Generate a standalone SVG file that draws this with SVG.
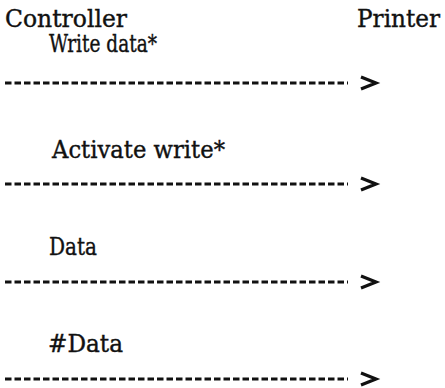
<svg xmlns="http://www.w3.org/2000/svg" width="445" height="388" viewBox="0 0 445 388">
<style>
  text { font-family: 'DejaVu Serif', 'Liberation Serif', serif; font-size: 24px; fill: #111; stroke: #111; stroke-width: 0.4; }
  .dash { stroke: #111; stroke-width: 3.2; stroke-dasharray: 6.5 3; fill: none; }
  .head { stroke: #111; stroke-width: 3.2; fill: none; stroke-linecap: butt; stroke-linejoin: miter; }
</style>
<defs>
  <polyline id="chev" class="head" points="0,-6 15,0 0,6"/>
</defs>
<rect width="445" height="388" fill="#fff"/>
<g id="controller"><text x="5" y="27" textLength="122" lengthAdjust="spacingAndGlyphs">Controller</text></g>
<g id="printer"><text x="357" y="27" textLength="83" lengthAdjust="spacingAndGlyphs">Printer</text></g>
<g id="labels">
  <text x="49" y="52" textLength="108" lengthAdjust="spacingAndGlyphs">Write data*</text>
  <text x="52" y="158" textLength="173" lengthAdjust="spacingAndGlyphs">Activate write*</text>
  <text x="49" y="255" textLength="48" lengthAdjust="spacingAndGlyphs">Data</text>
  <text x="48" y="352" textLength="75" lengthAdjust="spacingAndGlyphs">#Data</text>
</g>
<g id="connectors">
  <line class="dash" x1="5" y1="83" x2="348" y2="83"/>
  <use href="#chev" x="361" y="83"/>
  <line class="dash" x1="5" y1="184" x2="348" y2="184"/>
  <use href="#chev" x="361" y="184"/>
  <line class="dash" x1="5" y1="282" x2="348" y2="282"/>
  <use href="#chev" x="361" y="282"/>
  <line class="dash" x1="5" y1="379" x2="348" y2="379"/>
  <use href="#chev" x="361" y="379"/>
</g>
</svg>
